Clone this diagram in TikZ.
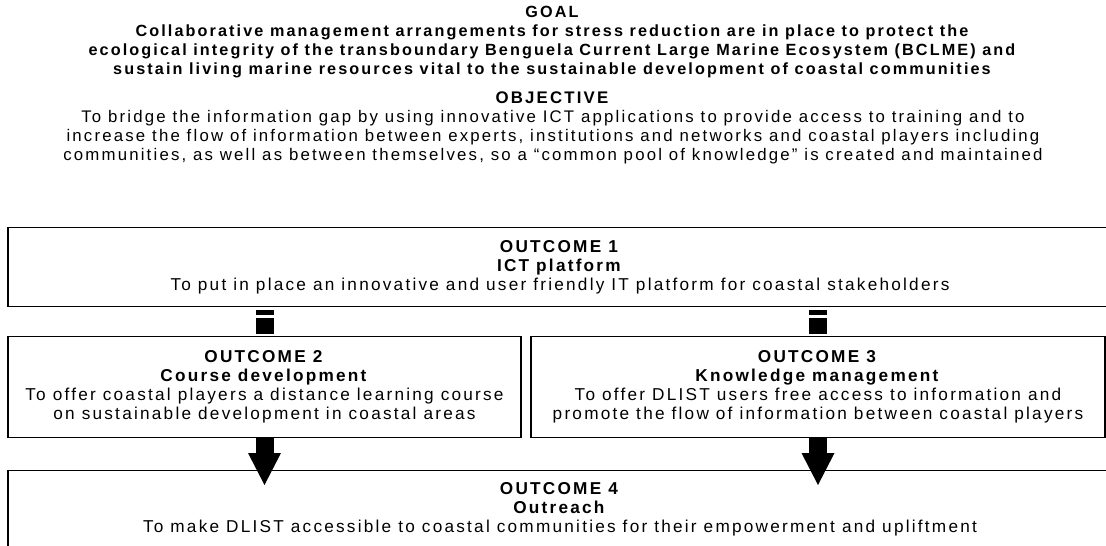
\documentclass[tikz,border=0pt]{standalone}
\usepackage{fontspec}
\setmainfont{Liberation Sans}[LetterSpace=13]
\usetikzlibrary{positioning,arrows.meta}

\begin{document}
\begin{tikzpicture}[x=1pt, y=-1pt,
  txt/.style={align=center, inner sep=0pt, font=\fontsize{16.8}{19}\selectfont},
  outbox/.style={draw, line width=1.1pt, align=center, inner sep=0pt, anchor=north,
    font=\fontsize{17.2}{19}\selectfont},
  gap/.style={line width=18pt, dash pattern=on 0pt off 3pt on 5pt off 3pt on 16pt off 20pt},
  bigarrow/.style={line width=18pt, -{Triangle[width=33pt, length=32pt, line width=0pt]}}]
\path[use as bounding box, clip] (0,0) rectangle (1106,546);

% goal and objective
\node (goal) [txt, font=\fontsize{16.2}{19}\selectfont] at (553,42.5) {\textbf{GOAL}\\
  \textbf{Collaborative management arrangements for stress reduction are in place to protect the}\\
  \textbf{ecological integrity of the transboundary Benguela Current Large Marine Ecosystem (BCLME) and}\\
  \textbf{sustain living marine resources vital to the sustainable development of coastal communities}};
\node (objective) [txt] at (553,127.5) {\textbf{OBJECTIVE}\\
  To bridge the information gap by using innovative ICT applications to provide access to training and to\\
  increase the flow of information between experts, institutions and networks and coastal players including\\
  communities, as well as between themselves, so a “common pool of knowledge” is created and maintained};

% outcomes
\node (out1) [outbox, minimum width=1104pt, minimum height=79pt] at (560,227)
  {\textbf{OUTCOME 1}\\ \textbf{ICT platform}\\
   To put in place an innovative and user friendly IT platform for coastal stakeholders};
\node (out2) [outbox, minimum width=513pt, minimum height=101pt] at (264.5,336)
  {\textbf{OUTCOME 2}\\ \textbf{Course development}\\
   To offer coastal players a distance learning course\\ on sustainable development in coastal areas};
\node (out3) [outbox, minimum width=574pt, minimum height=101pt] at (818,336)
  {\textbf{OUTCOME 3}\\ \textbf{Knowledge management}\\
   To offer DLIST users free access to information and\\ promote the flow of information between coastal players};
\node (out4) [outbox, minimum width=1104pt, minimum height=78pt] at (560,470)
  {\textbf{OUTCOME 4}\\ \textbf{Outreach}\\
   To make DLIST accessible to coastal communities for their empowerment and upliftment};

% links
\draw[gap] (out2.north |- out1.south) -- (out2.north);
\draw[gap] (out3.north |- out1.south) -- (out3.north);
\path (out2.south |- out4.north) ++(0,15) coordinate (tip2);
\path (out3.south |- out4.north) ++(0,15) coordinate (tip3);
\draw[bigarrow] (out2.south) -- (tip2);
\draw[bigarrow] (out3.south) -- (tip3);
\end{tikzpicture}
\end{document}
